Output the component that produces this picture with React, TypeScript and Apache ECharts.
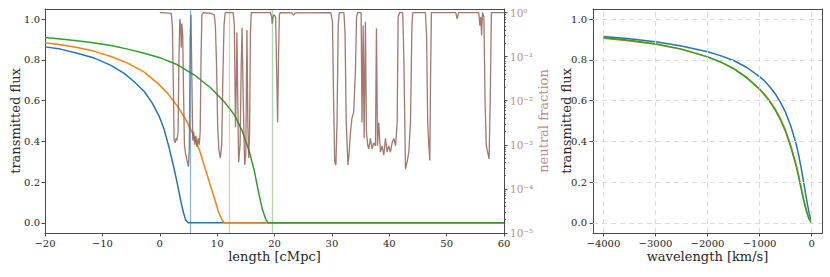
import React, { useEffect, useRef } from 'react';
import * as echarts from 'echarts';

// ---------- Left panel: transmitted flux vs length ----------
const fluxTicks = [0, 0.2, 0.4, 0.6, 0.8, 1.0];

const blueX = [-20, -17.3, -14.4, -11.4, -8.5, -6.2, -4.5, -2.7, -1.3, -0.1, 0.77, 1.64, 2.4, 3.1, 3.67, 4.14, 4.55, 4.95, 60];
const blueY = [0.864, 0.853, 0.833, 0.809, 0.773, 0.734, 0.694, 0.645, 0.588, 0.523, 0.458, 0.368, 0.278, 0.188, 0.106, 0.049, 0.011, 0, 0];

const orangeX = [-20, -17.3, -14.4, -11.4, -8.5, -5.6, -2.7, -0.4, 1.35, 3.1, 4.55, 5.7, 6.9, 7.7, 8.6, 9.5, 10.2, 10.8, 11.25, 60];
const orangeY = [0.884, 0.874, 0.861, 0.842, 0.817, 0.784, 0.74, 0.686, 0.637, 0.572, 0.507, 0.441, 0.359, 0.286, 0.204, 0.123, 0.057, 0.016, 0, 0];

const greenX = [-20, -17.3, -14.4, -11.4, -8.5, -5.6, -2.7, 0.2, 3.1, 6.0, 8.9, 11.2, 13.0, 14.4, 15.6, 16.5, 17.3, 17.9, 18.5, 18.9, 60];
const greenY = [0.91, 0.903, 0.894, 0.883, 0.871, 0.853, 0.833, 0.809, 0.776, 0.727, 0.662, 0.596, 0.531, 0.449, 0.351, 0.253, 0.139, 0.065, 0.016, 0, 0];

const markerX = [5.3, 12.1, 19.6];

const neutralX = [
  0.0, 1.0, 2.0, 2.2, 2.35, 2.5, 2.7, 2.85, 3.0, 3.2, 3.35, 3.5, 3.65, 3.75, 3.85, 4.0, 4.15, 4.3, 4.5, 4.75,
  5.0, 5.15, 5.3, 5.45, 5.6, 5.75, 5.9, 6.1, 6.3, 6.5, 6.7, 6.9, 7.05, 7.2, 7.35, 7.6, 9.0, 9.5, 9.7, 9.9,
  10.1, 10.3, 10.55, 10.8, 11.0, 11.2, 11.4, 12.8, 13.0, 13.2, 13.35, 13.45, 13.6, 13.75, 14.0, 14.2, 14.35, 14.55, 14.8, 15.0,
  15.2, 15.35, 15.5, 15.65, 15.8, 15.95, 19.3, 19.5, 19.6, 19.75, 19.9, 20.2, 20.4, 20.55, 20.7, 20.85, 21.0, 23.0, 23.3, 23.6,
  29.8, 30.1, 30.3, 30.5, 30.7, 30.9, 31.1, 31.3, 32.1, 32.3, 32.5, 32.8, 33.0, 33.25, 33.5, 33.8, 34.1, 34.3, 34.5, 35.1,
  35.25, 35.45, 35.62, 35.85, 36.02, 36.26, 36.43, 36.72, 37.0, 37.3, 37.6, 37.77, 37.95, 38.17, 38.46, 38.75, 39.05, 39.34, 39.63, 39.92,
  40.2, 40.5, 40.8, 41.1, 41.38, 41.55, 41.8, 42.35, 42.54, 42.83, 43.1, 43.41, 43.7, 43.95, 44.1, 46.3, 46.5, 46.7, 46.9, 47.07,
  47.2, 47.35, 51.6, 51.84, 52.1, 55.6, 55.8, 55.95, 56.1, 56.25, 56.5, 56.7, 56.9, 57.2, 57.4, 57.6, 57.8, 60.0,
];
const neutralF = [
  1.0, 0.98, 0.96, 0.5, 0.032, 1.26e-3, 1.12e-3, 1.41e-3, 1.26e-3, 2.0e-3, 0.1, 0.71, 0.5, 0.16, 0.56, 0.32, 0.016, 1.0e-3, 6.3e-4, 4.5e-4,
  3.2e-4, 7.9e-4, 0.25, 0.89, 0.032, 1.26e-3, 2.0e-3, 1.0e-3, 1.6e-3, 8.9e-4, 1.41e-3, 1.0e-3, 2.0e-3, 0.1, 0.89, 1.0, 0.95, 0.89, 0.5, 0.063,
  2.5e-3, 7.9e-4, 5.0e-4, 1.0e-3, 0.032, 0.5, 1.0, 1.0, 0.5, 2.5e-3, 0.032, 0.35, 0.01, 4.0e-4, 1.0e-3, 0.063, 0.45, 0.01, 3.5e-4, 6.3e-4,
  0.4, 3.2e-3, 5.0e-4, 1.6e-3, 0.32, 1.0, 1.0, 0.79, 0.56, 0.79, 0.89, 0.79, 0.032, 3.2e-3, 0.1, 0.89, 1.0, 0.98, 0.87, 0.98,
  1.0, 0.63, 0.01, 4.0e-4, 3.5e-4, 3.2e-3, 0.5, 1.0, 1.0, 0.32, 3.2e-3, 3.5e-4, 6.3e-4, 1.95e-3, 4.0e-3, 5.5e-3, 0.045, 0.79, 1.0, 1.0,
  3.2e-3, 0.51, 1.4e-3, 0.62, 1.95e-3, 9.5e-4, 8.1e-4, 1.4e-3, 8.1e-4, 1.1e-3, 9.5e-4, 0.44, 9.5e-4, 3.2e-3, 6.8e-4, 9.5e-4, 5.8e-4, 1.4e-3, 6.8e-4, 9.5e-4,
  6.8e-4, 1.1e-3, 1.4e-3, 9.5e-4, 3.2e-3, 0.79, 1.0, 1.0, 0.1, 2.8e-4, 4.0e-4, 6.8e-4, 3.2e-3, 0.5, 1.0, 1.0, 0.32, 3.2e-3, 1.0e-3, 4.4e-4,
  0.032, 1.0, 1.0, 0.72, 1.0, 1.0, 0.5, 0.79, 0.3, 1.0, 0.79, 0.01, 1.0e-3, 6.3e-4, 4.8e-4, 0.01, 1.0,
  1.0,
];
const logTickExps = [-5, -4, -3, -2, -1, 0];

// ---------- Right panel: transmitted flux vs wavelength ----------
const waveX = [-4000, -3500, -3000, -2500, -2000, -1750, -1500, -1250, -1000, -900, -800, -700, -600, -500, -400, -300, -250, -200, -150, -100, -50, 0];
const waveBlue = [0.915, 0.904, 0.889, 0.868, 0.84, 0.821, 0.797, 0.764, 0.718, 0.695, 0.667, 0.634, 0.593, 0.542, 0.475, 0.39, 0.335, 0.27, 0.195, 0.12, 0.05, 0.0];
const waveOrange = [0.906, 0.893, 0.877, 0.852, 0.815, 0.79, 0.758, 0.715, 0.658, 0.63, 0.598, 0.56, 0.513, 0.455, 0.38, 0.29, 0.235, 0.175, 0.115, 0.063, 0.022, 0.0];
const waveGreen = [0.909, 0.896, 0.879, 0.853, 0.815, 0.79, 0.757, 0.713, 0.656, 0.627, 0.594, 0.555, 0.507, 0.448, 0.372, 0.282, 0.227, 0.167, 0.108, 0.057, 0.019, 0.0];
const waveTicks = [-4000, -3000, -2000, -1000, 0];

const BLUE = '#1f77b4';
const ORANGE = '#ff7f0e';
const GREEN = '#2ca02c';
const BROWN = '#8c564b';
const FONT = 'DejaVu Serif';
const SPINE = '#4a4a4a';
const TEXT = '#262626';
const BROWN_TEXT = '#b8908a';

const SUP: Record<string, string> = { '0': '\u2070', '1': '\u00b9', '2': '\u00b2', '3': '\u00b3', '4': '\u2074', '5': '\u2075', '-': '\u207b' };
const sup = (s: string) => s.split('').map((c) => SUP[c] || c).join('');
const minus = (v: number) => String(v).replace('-', '\u2212');

const zip = (xs: number[], ys: number[]) => xs.map((x, i) => [x, ys[i]]);

const minorLog: number[] = [];
for (let d = -5; d < 0; d++) for (let k = 2; k <= 9; k++) minorLog.push(d + Math.log10(k));

function curve(xAxisIndex: number, yAxisIndex: number, data: number[][], color: string) {
  return {
    type: 'line', xAxisIndex, yAxisIndex, data, showSymbol: false, z: 2,
    lineStyle: { color, width: 1.5, join: 'round' }, itemStyle: { color },
  };
}

function buildOption() {
  const spine = { show: true, onZero: false, lineStyle: { color: SPINE, width: 1 } };
  const tick = { show: true, inside: false, length: 3.5, lineStyle: { color: SPINE, width: 1 } };
  const label = { color: TEXT, fontFamily: FONT, fontSize: 10 };
  const nameStyle = { color: TEXT, fontFamily: FONT, fontSize: 13 };
  const frameX = (gridIndex: number, min: number, max: number) => ({
    type: 'value', gridIndex, position: 'top', min, max,
    axisLine: spine, axisTick: { show: false }, axisLabel: { show: false }, splitLine: { show: false },
  });
  const frameY = (gridIndex: number, min: number, max: number) => ({
    type: 'value', gridIndex, position: 'right', min, max,
    axisLine: spine, axisTick: { show: false }, axisLabel: { show: false }, splitLine: { show: false },
  });

  return {
    animation: false,
    backgroundColor: '#ffffff',
    grid: [
      { left: 45, top: 9, width: 459, height: 224 },
      { left: 593, top: 9, width: 229, height: 224 },
    ],
    xAxis: [
      {
        type: 'value', gridIndex: 0, position: 'bottom', min: -20, max: 60, interval: 10,
        axisLine: spine, axisTick: tick,
        axisLabel: { ...label, margin: 5, formatter: (v: number) => minus(v) },
        splitLine: { show: false },
        name: 'length [cMpc]', nameLocation: 'middle', nameGap: 17, nameMoveOverlap: false, nameTextStyle: nameStyle,
      },
      frameX(0, -20, 60),
      {
        type: 'value', gridIndex: 1, position: 'bottom', min: -4200, max: 200,
        axisLine: spine,
        axisTick: { ...tick, customValues: waveTicks },
        axisLabel: { ...label, margin: 5, customValues: waveTicks, formatter: (v: number) => minus(v) },
        splitLine: { show: false },
        name: 'wavelength [km/s]', nameLocation: 'middle', nameGap: 17, nameMoveOverlap: false, nameTextStyle: nameStyle,
      },
      frameX(1, -4200, 200),
    ],
    yAxis: [
      {
        type: 'value', gridIndex: 0, position: 'left', min: -0.05, max: 1.05,
        axisLine: spine,
        axisTick: { ...tick, customValues: fluxTicks },
        axisLabel: { ...label, margin: 5, customValues: fluxTicks, formatter: (v: number) => v.toFixed(1) },
        splitLine: { show: false },
        name: 'transmitted flux', nameLocation: 'middle', nameGap: 23, nameRotate: 90, nameMoveOverlap: false, nameTextStyle: nameStyle,
      },
      {
        type: 'value', gridIndex: 0, position: 'right', min: -5, max: 0.08,
        axisLine: spine,
        axisTick: { ...tick, customValues: logTickExps },
        axisLabel: { ...label, fontSize: 10.5, color: BROWN_TEXT, margin: 6, customValues: logTickExps, formatter: (v: number) => '10' + sup(String(Math.round(v))) },
        splitLine: { show: false },
        name: 'neutral fraction', nameLocation: 'middle', nameGap: 33, nameRotate: 90, nameMoveOverlap: false,
        nameTextStyle: { ...nameStyle, color: BROWN_TEXT },
      },
      {
        type: 'value', gridIndex: 0, position: 'right', min: -5, max: 0.08,
        axisLine: { show: false, onZero: false },
        axisTick: { show: true, inside: false, length: 2, customValues: minorLog, lineStyle: { color: SPINE, width: 0.8 } },
        axisLabel: { show: false },
        splitLine: { show: false },
      },
      {
        type: 'value', gridIndex: 1, position: 'left', min: -0.05, max: 1.05,
        axisLine: spine,
        axisTick: { ...tick, customValues: fluxTicks },
        axisLabel: { ...label, margin: 6, customValues: fluxTicks, formatter: (v: number) => v.toFixed(1) },
        splitLine: { show: false },
        name: 'transmitted flux', nameLocation: 'middle', nameGap: 20, nameRotate: 90, nameMoveOverlap: false, nameTextStyle: nameStyle,
      },
      frameY(1, -0.05, 1.05),
    ],
    series: [
      // right panel grid lines
      {
        type: 'line', xAxisIndex: 2, yAxisIndex: 3, data: [[waveTicks[0], fluxTicks[0]]], z: 0,
        showSymbol: false, lineStyle: { opacity: 0 }, silent: true,
        markLine: {
          silent: true, symbol: ['none', 'none'], label: { show: false },
          lineStyle: { color: '#dcdcdc', width: 1, type: [5, 4] },
          data: [...waveTicks.map((v) => ({ xAxis: v })), ...fluxTicks.map((v) => ({ yAxis: v }))],
        },
      },
      // left panel vertical markers
      {
        type: 'line', xAxisIndex: 0, yAxisIndex: 0, data: [[markerX[0], 0]], z: 1,
        showSymbol: false, lineStyle: { opacity: 0 }, silent: true,
        markLine: {
          silent: true, symbol: ['none', 'none'], label: { show: false },
          data: [
            { xAxis: markerX[0], lineStyle: { color: BLUE, opacity: 0.55, width: 1.2, type: 'solid' } },
            { xAxis: markerX[1], lineStyle: { color: ORANGE, opacity: 0.45, width: 1.2, type: 'solid' } },
            { xAxis: markerX[2], lineStyle: { color: GREEN, opacity: 0.4, width: 1.4, type: 'solid' } },
          ],
        },
      },
      curve(0, 0, zip(blueX, blueY), BLUE),
      curve(0, 0, zip(orangeX, orangeY), ORANGE),
      curve(0, 0, zip(greenX, greenY), GREEN),
      {
        type: 'line', xAxisIndex: 0, yAxisIndex: 1,
        data: neutralX.map((x, i) => [x, Math.log10(neutralF[i])]),
        showSymbol: false, z: 3, lineStyle: { color: BROWN, width: 1.3, opacity: 0.8 }, itemStyle: { color: BROWN },
      },
      curve(2, 3, zip(waveX, waveBlue), BLUE),
      curve(2, 3, zip(waveX, waveOrange), ORANGE),
      curve(2, 3, zip(waveX, waveGreen), GREEN),
    ],
  };
}

export default function App() {
  const ref = useRef<HTMLDivElement>(null);
  useEffect(() => {
    if (!ref.current) return;
    const chart = echarts.init(ref.current, null, { renderer: 'svg' });
    chart.setOption(buildOption() as any);
    return () => chart.dispose();
  }, []);
  return <div ref={ref} style={{ position: 'fixed', left: 0, top: 0, width: 830, height: 277, background: '#fff' }} />;
}
